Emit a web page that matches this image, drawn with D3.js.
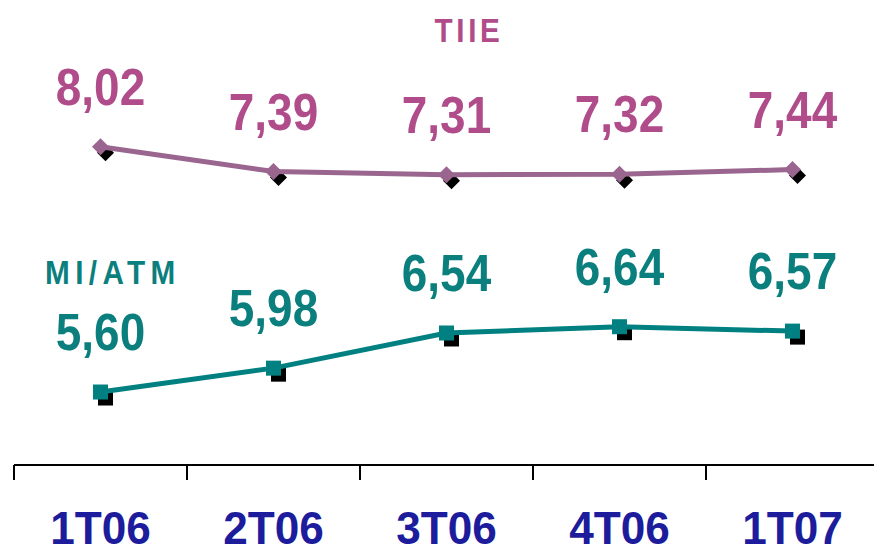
<!DOCTYPE html>
<html>
<head>
<meta charset="utf-8">
<script src="https://cdn.jsdelivr.net/npm/d3@7"></script>
<style>
  html, body { margin: 0; padding: 0; background: #fff; }
  svg { display: block; }
</style>
</head>
<body>
<svg id="chart" width="874" height="554"></svg>
<script>
// Quarterly rates
const categories = ["1T06", "2T06", "3T06", "4T06", "1T07"];
const tiieValues = [8.02, 7.39, 7.31, 7.32, 7.44];
const miatmValues = [5.60, 5.98, 6.54, 6.64, 6.57];
const seriesNames = ["TIIE", "MI/ATM"];

const fmt = v => d3.format(".2f")(v).replace(".", ",");

const svg = d3.select("#chart");
const W = 874, H = 554;

const x = d3.scaleBand().domain(categories).range([14, 879]).padding(0);
// Each series has its own vertical scale
const yTiie = d3.scaleLinear().domain([7, 8.5]).range([186.9, 127.8]);
const yMi = d3.scaleLinear().domain([5, 7]).range([429.7, 304.1]);

const cx = c => x(c) + x.bandwidth() / 2;

// Category axis
const axisY = 465;
svg.append("line")
  .attr("x1", x(categories[0])).attr("x2", W)
  .attr("y1", axisY).attr("y2", axisY)
  .attr("stroke", "#000").attr("stroke-width", 2);
svg.selectAll(".tick")
  .data(categories).enter().append("line")
  .attr("x1", d => x(d)).attr("x2", d => x(d))
  .attr("y1", axisY).attr("y2", axisY + 15)
  .attr("stroke", "#000").attr("stroke-width", 2);
svg.selectAll(".cat")
  .data(categories).enter().append("text")
  .attr("transform", d => `translate(${cx(d)},544) scale(0.96,1)`)
  .attr("text-anchor", "middle")
  .attr("font-family", "Liberation Sans, Arial, sans-serif")
  .attr("font-weight", "bold")
  .attr("font-size", 46)
  .attr("fill", "#1c1c9c")
  .text(d => d);

function drawSeries(values, y, opts) {
  const pts = categories.map((c, i) => ({ c, v: values[i] }));
  const g = svg.append("g");
  const marker = (sel, dx, dy, fill) => {
    if (opts.shape === "diamond") {
      sel.append("rect")
        .attr("x", -6).attr("y", -6).attr("width", 12).attr("height", 12)
        .attr("transform", d => `translate(${cx(d.c) + dx},${y(d.v) + dy}) rotate(45)`)
        .attr("fill", fill);
    } else {
      sel.append("rect")
        .attr("x", -7.5).attr("y", -7.5).attr("width", 15).attr("height", 15)
        .attr("transform", d => `translate(${cx(d.c) + dx},${y(d.v) + dy})`)
        .attr("fill", fill);
    }
  };
  // marker shadows
  marker(g.selectAll(".sh").data(pts).enter(), 5, 6, "#000");
  const line = d3.line().x(d => cx(d.c)).y(d => y(d.v));
  g.append("path").datum(pts)
    .attr("d", line)
    .attr("fill", "none")
    .attr("stroke", opts.lineColor)
    .attr("stroke-width", 5);
  marker(g.selectAll(".mk").data(pts).enter(), 0, 0, opts.lineColor);
  g.selectAll(".lbl").data(pts).enter().append("text")
    .attr("transform", d => `translate(${cx(d.c)},${y(d.v) - 42}) scale(0.9,1)`)
    .attr("text-anchor", "middle")
    .attr("font-family", "Liberation Sans, Arial, sans-serif")
    .attr("font-weight", "bold")
    .attr("font-size", 51)
    .attr("fill", opts.labelColor)
    .text(d => fmt(d.v));
}

drawSeries(tiieValues, yTiie, { shape: "diamond", lineColor: "#9a668f", labelColor: "#b14c8b" });
drawSeries(miatmValues, yMi, { shape: "square", lineColor: "#008080", labelColor: "#0b7f7d" });

// Series titles
svg.append("text")
  .attr("transform", "translate(469,42) scale(0.9,1)")
  .attr("text-anchor", "middle")
  .attr("font-family", "Liberation Sans, Arial, sans-serif")
  .attr("font-weight", "bold")
  .attr("font-size", 33)
  .attr("letter-spacing", 4)
  .attr("fill", "#b14c8b")
  .text(seriesNames[0]);
svg.append("text")
  .attr("transform", "translate(45,284) scale(0.9,1)")
  .attr("text-anchor", "start")
  .attr("font-family", "Liberation Sans, Arial, sans-serif")
  .attr("font-weight", "bold")
  .attr("font-size", 33)
  .attr("letter-spacing", 6)
  .attr("fill", "#0b7f7d")
  .text(seriesNames[1]);
</script>
</body>
</html>
